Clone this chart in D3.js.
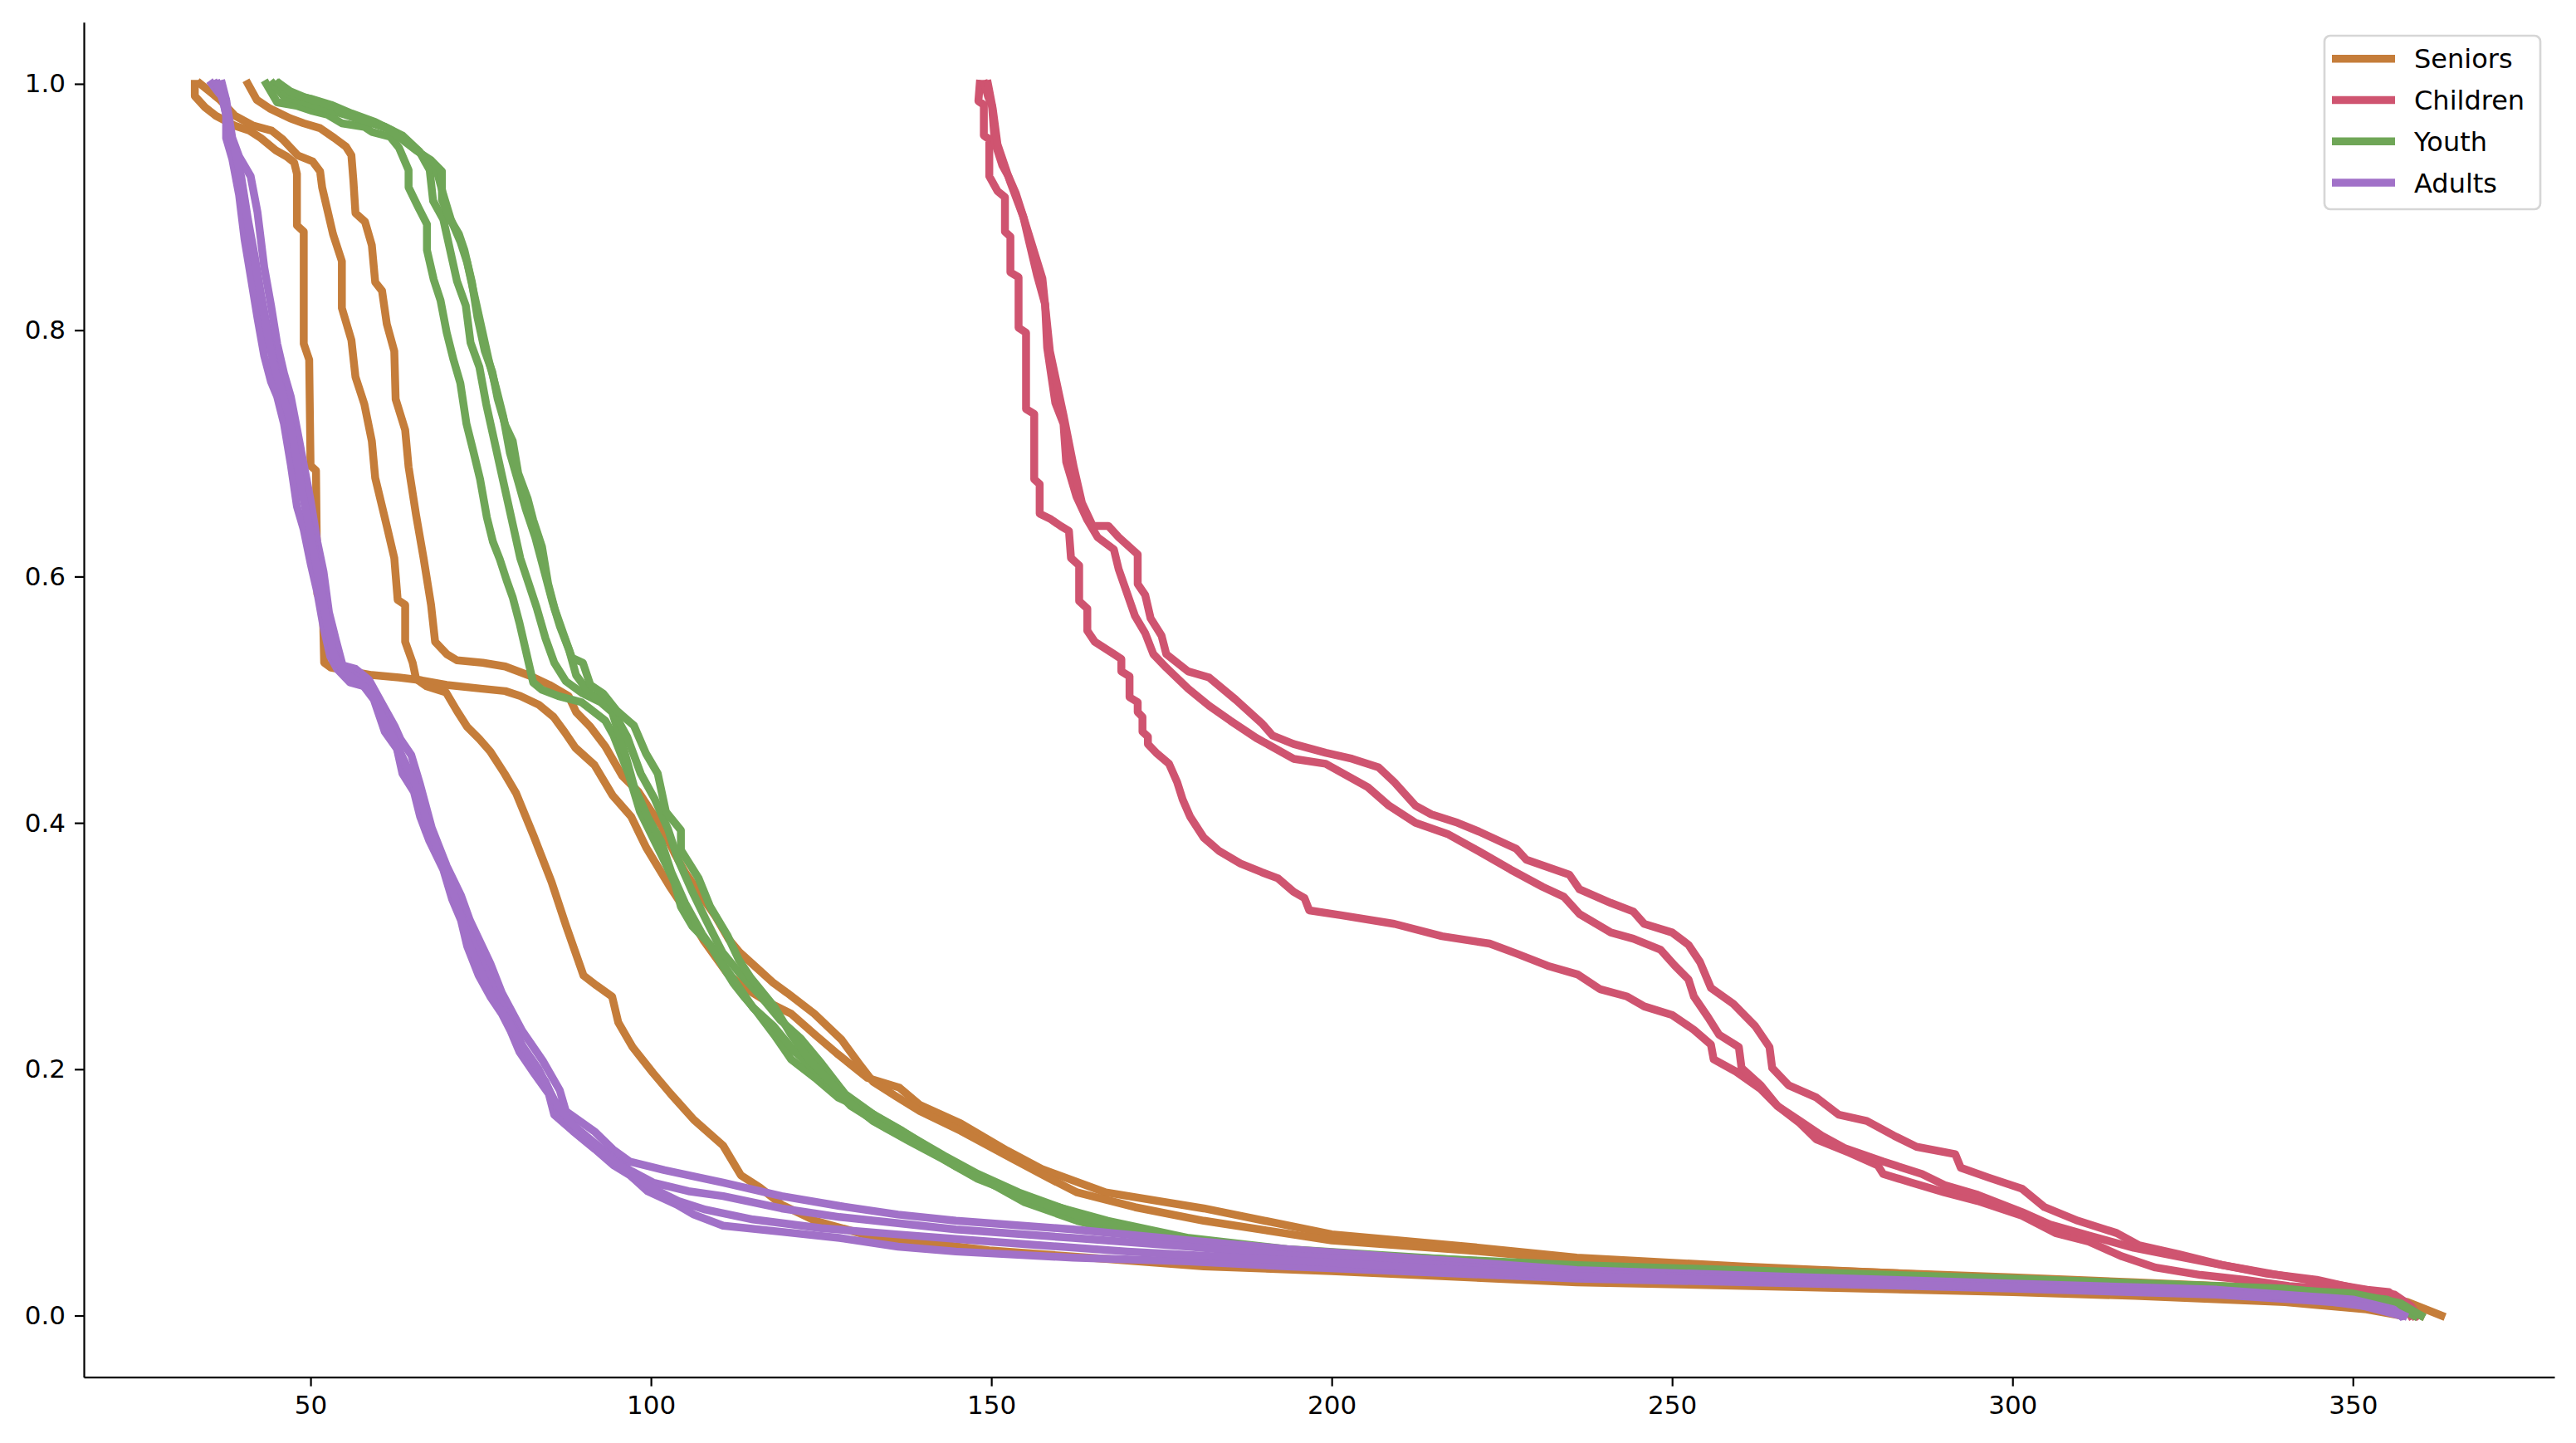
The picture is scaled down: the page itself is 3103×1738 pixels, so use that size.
<!DOCTYPE html>
<html><head><meta charset="utf-8">
<script src="https://cdn.jsdelivr.net/npm/d3@7"></script>
<style>html,body{margin:0;padding:0;background:#fff;} svg{display:block;}</style>
</head><body>
<svg id="chart" width="3103" height="1738"></svg>
<script>
const categories = ["Seniors", "Children", "Youth", "Adults"];
const colors = ["#c57d3a", "#cf5470", "#6fa657", "#a171c8"];
const xTicks = [50, 100, 150, 200, 250, 300, 350];
const yTicks = [0.0, 0.2, 0.4, 0.6, 0.8, 1.0];

// Seniors
const seniorsRun1 = [[33.0,1.0],[33.0,0.99],[34.5,0.981],[36.1,0.974],[38.9,0.966],[41,0.962],[42.7,0.956],[44.9,0.946],[46.5,0.941],[47.6,0.936],[48.0,0.927],[48.0,0.885],[49.0,0.880],[49.0,0.789],[49.8,0.776],[50.0,0.690],[50.8,0.686],[51.0,0.586],[51.8,0.576],[52.0,0.530],[53,0.526],[55,0.524],[59,0.520],[63,0.518],[66,0.516],[70,0.512],[75,0.509],[78.6,0.507],[80.8,0.503],[83.5,0.496],[85.7,0.486],[87.3,0.474],[88.9,0.461],[91.7,0.447],[94.4,0.422],[97.1,0.405],[99.3,0.380],[102.7,0.349],[105.2,0.328],[107.8,0.304],[111.2,0.278],[113.8,0.266],[117,0.255],[120.6,0.245],[124.1,0.228],[127.5,0.212],[131.8,0.193],[136.5,0.185],[139.5,0.171],[145.5,0.156],[152.3,0.134],[157.4,0.119],[166.8,0.100],[181.2,0.087],[200,0.066],[220,0.056],[236,0.047],[260,0.040],[280,0.035],[300,0.031],[318,0.027],[335,0.023],[350,0.019],[358,0.011],[363,0.0]];
const seniorsRun2 = [[33.8,1.0],[36.7,0.987],[38.9,0.974],[41.6,0.966],[44.3,0.962],[45.9,0.955],[48.1,0.942],[50.3,0.937],[51.4,0.929],[51.7,0.916],[53.3,0.878],[54.6,0.856],[54.6,0.818],[56.0,0.792],[56.6,0.762],[57.9,0.740],[59.0,0.710],[59.5,0.680],[61.2,0.641],[62.3,0.615],[62.8,0.581],[63.9,0.577],[63.9,0.547],[65.0,0.530],[65.5,0.517],[67,0.511],[69.9,0.506],[71.5,0.491],[73,0.478],[74.8,0.468],[76.4,0.458],[78.5,0.44],[80.2,0.424],[82.8,0.389],[85.4,0.352],[87.5,0.317],[90.1,0.276],[92.0,0.268],[94.3,0.259],[95.2,0.238],[97.3,0.218],[100.3,0.197],[102.9,0.180],[106.3,0.159],[110.6,0.138],[113.2,0.114],[116,0.104],[119.2,0.090],[124.1,0.077],[132.6,0.064],[149.7,0.053],[166.8,0.046],[181.2,0.040],[200,0.036],[236,0.027],[270,0.023],[300,0.019],[318,0.016],[340,0.011],[352,0.005],[357,0.0]];
const seniorsRun3 = [[40.8,1.0],[42.1,0.987],[44,0.980],[47.0,0.972],[49,0.968],[51.4,0.964],[53.5,0.956],[55.2,0.949],[56.0,0.942],[56.3,0.921],[56.6,0.895],[58,0.888],[59.0,0.869],[59.5,0.839],[60.5,0.832],[61.2,0.805],[62.3,0.783],[62.5,0.744],[63.9,0.719],[64.4,0.689],[65.5,0.650],[66.6,0.615],[67.7,0.577],[68.3,0.547],[70,0.537],[71.5,0.532],[75.3,0.530],[78.6,0.527],[82.4,0.519],[85.1,0.512],[87.9,0.503],[89,0.49],[91.1,0.478],[93.3,0.462],[95.8,0.438],[98.2,0.425],[100.1,0.409],[101.5,0.398],[103.5,0.375],[105,0.36],[107.0,0.344],[109.5,0.324],[111.5,0.305],[113,0.295],[116,0.28],[118,0.27],[120,0.262],[124,0.245],[128,0.224],[130.5,0.205],[132.6,0.19],[136,0.178],[139.5,0.166],[145.5,0.150],[153.2,0.127],[158.3,0.112],[162.6,0.100],[171.1,0.088],[181.2,0.077],[200,0.061],[220,0.053],[236,0.045],[260,0.039],[280,0.035],[300,0.030],[318,0.026],[335,0.022],[350,0.017],[356,0.009],[360,0.0]];

// Children
const childrenRun1 = [[148.3,1.0],[148.1,0.986],[148.9,0.983],[148.9,0.958],[149.7,0.955],[149.7,0.925],[150.9,0.913],[152.0,0.908],[152.0,0.880],[152.8,0.876],[152.8,0.847],[154.0,0.843],[154.0,0.802],[155.1,0.798],[155.1,0.736],[156.3,0.732],[156.3,0.679],[157.1,0.675],[157.1,0.651],[158.6,0.647],[160.2,0.641],[161.4,0.637],[161.7,0.615],[162.9,0.609],[162.9,0.580],[164.1,0.574],[164.1,0.556],[165.2,0.547],[168.0,0.537],[169.1,0.533],[169.1,0.523],[170.3,0.519],[170.3,0.502],[171.5,0.498],[171.5,0.490],[172.2,0.486],[172.2,0.474],[173.0,0.470],[173.0,0.464],[174.2,0.457],[176.1,0.448],[177.3,0.433],[178.1,0.419],[179.2,0.405],[181.2,0.388],[183.5,0.377],[186.6,0.367],[189.7,0.360],[192.1,0.355],[194.4,0.344],[196.0,0.339],[196.7,0.329],[201.4,0.325],[209.2,0.318],[216.2,0.308],[223.2,0.302],[227.1,0.294],[231.7,0.284],[236.1,0.277],[239.4,0.265],[243.4,0.259],[245.9,0.251],[250.0,0.244],[253.2,0.232],[255.7,0.220],[256.1,0.208],[259.4,0.198],[263.0,0.184],[265.5,0.170],[268.8,0.156],[271.2,0.143],[276.1,0.132],[280.2,0.122],[281.0,0.115],[285.1,0.108],[290.0,0.100],[294.9,0.093],[301.4,0.081],[306.3,0.067],[311.2,0.060],[316.1,0.048],[321.0,0.039],[327.6,0.033],[334.1,0.029],[340.6,0.024],[350.4,0.020],[355.3,0.017],[358,0.010],[359,0.0]];
const childrenRun2 = [[149.0,1.0],[149.5,0.99],[150.1,0.982],[150.5,0.953],[151.6,0.934],[152.5,0.925],[153.6,0.911],[154.7,0.892],[155.5,0.873],[156.7,0.845],[157.9,0.821],[158.2,0.786],[159.4,0.741],[160.6,0.724],[161.0,0.693],[162.5,0.665],[164.1,0.646],[165.6,0.632],[168.0,0.622],[168.7,0.606],[169.9,0.587],[171.1,0.568],[172.6,0.554],[173.8,0.537],[175.7,0.526],[178.9,0.509],[182.0,0.495],[185.1,0.483],[188.9,0.469],[194.4,0.452],[199.1,0.448],[205.3,0.429],[208.4,0.414],[212.3,0.400],[217.0,0.391],[221.6,0.377],[226.3,0.362],[231.0,0.348],[234.1,0.340],[236.4,0.326],[241.0,0.311],[244.3,0.306],[248.3,0.297],[250.4,0.284],[252.4,0.273],[253.2,0.259],[255.3,0.242],[256.9,0.228],[259.8,0.218],[260.2,0.201],[263.0,0.187],[265.5,0.170],[268.8,0.158],[272.0,0.146],[275.3,0.136],[281.0,0.125],[286.7,0.115],[290.0,0.106],[294.9,0.098],[301.4,0.084],[305.5,0.074],[311.2,0.065],[317.8,0.055],[324.3,0.048],[330.8,0.041],[339.0,0.033],[345.5,0.027],[352.1,0.021],[355.3,0.019],[357.5,0.010],[358.5,0.0]];
const childrenRun3 = [[149.5,1.0],[150.2,0.98],[150.9,0.951],[152.8,0.920],[154.7,0.892],[157.5,0.842],[158.6,0.783],[160.6,0.731],[162.1,0.689],[163.3,0.660],[164.9,0.641],[167.2,0.641],[168.7,0.632],[171.5,0.618],[171.5,0.594],[172.6,0.585],[173.4,0.566],[175.0,0.552],[175.7,0.537],[178.9,0.523],[182.0,0.518],[185.9,0.500],[189.7,0.481],[191.3,0.471],[194.4,0.464],[199.1,0.457],[203.0,0.452],[206.9,0.445],[209.2,0.433],[212.3,0.414],[214.6,0.407],[218.5,0.400],[221.6,0.393],[227.1,0.379],[228.6,0.370],[234.9,0.358],[236.4,0.346],[241.0,0.335],[244.3,0.328],[245.9,0.318],[250.0,0.311],[252.4,0.301],[254.1,0.287],[255.7,0.266],[259.0,0.253],[262.2,0.235],[264.3,0.218],[264.7,0.201],[267.1,0.187],[271.2,0.177],[274.5,0.163],[278.6,0.158],[282.6,0.146],[285.9,0.137],[291.6,0.131],[292.4,0.120],[296.5,0.112],[301.4,0.103],[304.7,0.088],[309.6,0.077],[315.3,0.067],[318.6,0.057],[324.3,0.050],[330.8,0.041],[337.4,0.034],[344.7,0.029],[350.4,0.022],[356.1,0.017],[358.5,0.008],[359.5,0.0]];

// Youth
const youthRun1 = [[43.5,1.0],[45.1,0.985],[48.1,0.982],[50.3,0.978],[52.5,0.975],[54.6,0.968],[57.9,0.965],[59,0.961],[61.7,0.957],[63,0.948],[64.4,0.930],[64.4,0.916],[65.9,0.899],[67.1,0.886],[67.1,0.865],[68.1,0.841],[69.1,0.824],[70.0,0.798],[71.0,0.776],[72.0,0.757],[72.9,0.724],[73.9,0.702],[74.9,0.679],[75.9,0.648],[76.8,0.628],[77.8,0.614],[78.8,0.597],[79.7,0.583],[80.7,0.562],[81.7,0.538],[82.7,0.514],[84,0.508],[86.4,0.503],[89.8,0.498],[93.3,0.483],[94.5,0.471],[96.7,0.440],[98.4,0.409],[100.1,0.39],[101.8,0.371],[103.5,0.351],[104.4,0.332],[106.1,0.316],[108.7,0.301],[110.4,0.285],[112.1,0.27],[113.8,0.258],[115.5,0.247],[118.1,0.228],[120.6,0.208],[124.1,0.193],[127.5,0.177],[131.8,0.166],[136.9,0.150],[141.2,0.135],[145.5,0.119],[149.7,0.108],[154.9,0.092],[162.6,0.077],[171.1,0.065],[181.2,0.057],[200,0.047],[236,0.038],[270,0.032],[300,0.027],[330,0.022],[350,0.016],[356,0.008],[359,0.0]];
const youthRun2 = [[44.5,1.0],[46,0.99],[49,0.985],[52,0.98],[55,0.975],[58,0.97],[61,0.965],[63.5,0.958],[66,0.945],[67.5,0.93],[68,0.905],[69.5,0.89],[70.5,0.865],[71.5,0.84],[72.8,0.82],[73.5,0.79],[74.8,0.77],[75.8,0.74],[76.8,0.715],[77.8,0.69],[78.8,0.665],[79.8,0.64],[80.8,0.615],[82,0.595],[83.2,0.575],[84.5,0.55],[85.8,0.53],[87.5,0.515],[90,0.505],[92.6,0.498],[94.3,0.49],[96,0.46],[97.5,0.43],[99.5,0.405],[101.5,0.385],[103,0.36],[105,0.335],[107.5,0.31],[110,0.29],[112.5,0.27],[115,0.25],[118,0.235],[121,0.215],[124.5,0.197],[129.4,0.17],[134.6,0.152],[139.7,0.138],[144.8,0.121],[151.7,0.104],[158.5,0.09],[167.1,0.077],[179,0.063],[193.4,0.054],[236,0.039],[300,0.028],[340,0.020],[355,0.012],[359,0.0]];
const youthRun3 = [[45.2,1.0],[46.5,0.992],[50,0.988],[53,0.983],[56,0.976],[59.5,0.969],[62,0.962],[64.5,0.952],[66.5,0.942],[68.5,0.93],[69.5,0.91],[70.6,0.89],[72,0.872],[73,0.855],[74,0.83],[75.2,0.80],[76.2,0.775],[77.3,0.752],[78.3,0.73],[79.3,0.70],[80.6,0.675],[81.6,0.655],[83,0.632],[84.3,0.605],[85.5,0.58],[86.6,0.56],[88,0.54],[89,0.52],[91,0.505],[94,0.495],[96.5,0.47],[98.5,0.44],[100.5,0.42],[102.5,0.395],[104,0.37],[106,0.345],[108.2,0.32],[110.5,0.295],[113,0.278],[116,0.26],[119,0.24],[122,0.225],[125,0.205],[128.5,0.18],[133,0.162],[138,0.146],[143,0.13],[148,0.115],[154,0.1],[162,0.084],[171,0.07],[181,0.06],[200,0.05],[236,0.041],[300,0.030],[340,0.022],[355,0.013],[360,0.0]];
const youthRun4 = [[45.5,1.0],[47,0.994],[49.2,0.989],[51.4,0.985],[53.6,0.981],[55.7,0.974],[59,0.968],[61.2,0.964],[63.4,0.955],[65.5,0.946],[67.7,0.938],[69.3,0.929],[69.3,0.906],[70.4,0.891],[71.8,0.878],[72.6,0.865],[73.7,0.839],[74.5,0.811],[75.6,0.783],[76.7,0.766],[77.5,0.744],[78.6,0.723],[79.7,0.710],[80.5,0.684],[81.9,0.663],[82.7,0.646],[84.0,0.624],[84.9,0.594],[85.9,0.573],[87.3,0.551],[88.4,0.534],[90.0,0.530],[91.1,0.512],[93,0.505],[95.0,0.491],[97.5,0.479],[99.3,0.456],[101.0,0.440],[102.2,0.409],[104.4,0.394],[104.4,0.378],[107.0,0.355],[108.7,0.332],[111.2,0.309],[112.9,0.289],[114.7,0.274],[118.1,0.251],[120.6,0.228],[123.2,0.208],[125.8,0.193],[129.2,0.173],[132.6,0.158],[137.8,0.142],[142.9,0.127],[148.0,0.111],[154.9,0.096],[162.6,0.081],[171.1,0.068],[181.2,0.059],[200,0.049],[236,0.040],[270,0.034],[300,0.029],[330,0.024],[350,0.018],[357,0.010],[360,0.0]];

// Adults
const adultsRun1 = [[35.5,1.0],[36.6,0.992],[37.6,0.987],[37.6,0.956],[38.5,0.939],[39.5,0.910],[40.3,0.874],[41.2,0.844],[42.2,0.810],[43.2,0.779],[44.2,0.758],[45.1,0.746],[46.1,0.724],[47.1,0.691],[48.0,0.657],[49.0,0.638],[50.0,0.611],[51.0,0.587],[51.9,0.559],[52.9,0.535],[53.9,0.525],[55.8,0.514],[57.8,0.511],[59.3,0.500],[60.9,0.474],[62.7,0.46],[63.5,0.44],[65.2,0.425],[66.1,0.405],[67.4,0.386],[69.5,0.362],[70.8,0.338],[72.1,0.321],[73.0,0.300],[74.7,0.276],[76.4,0.259],[78.1,0.245],[79.4,0.231],[80.7,0.214],[82.8,0.197],[85.0,0.180],[85.8,0.163],[88.5,0.15],[91.8,0.135],[94.5,0.122],[96.9,0.114],[99.5,0.101],[103.8,0.090],[106.3,0.082],[110.6,0.073],[119.2,0.068],[127.7,0.063],[136.3,0.056],[144.8,0.052],[162.0,0.047],[179.0,0.044],[193.4,0.040],[236,0.030],[270,0.026],[300,0.022],[330,0.017],[350,0.010],[357,0.0]];
const adultsRun2 = [[37.0,1.0],[37.6,0.987],[38.5,0.956],[39.5,0.941],[41.2,0.925],[42.2,0.896],[43.2,0.851],[44.2,0.820],[45.1,0.789],[46.1,0.765],[47.1,0.746],[48.0,0.720],[49.0,0.691],[50.0,0.662],[51.0,0.628],[51.9,0.604],[52.7,0.571],[53.7,0.549],[54.7,0.528],[56.6,0.525],[58.6,0.516],[60.5,0.497],[62.4,0.478],[63.2,0.468],[64.8,0.455],[66.1,0.431],[67.8,0.396],[70.0,0.365],[72.1,0.341],[73.4,0.321],[76.4,0.286],[78.1,0.262],[81.1,0.231],[84.1,0.207],[86.6,0.183],[87.5,0.166],[91.8,0.149],[94.4,0.135],[96.9,0.125],[102.0,0.118],[110.6,0.108],[119.2,0.097],[127.7,0.089],[136.3,0.082],[144.8,0.077],[162.0,0.070],[179.0,0.061],[193.4,0.054],[236,0.037],[270,0.031],[300,0.026],[330,0.021],[350,0.013],[356,0.005],[357,0.0]];
const adultsRun3 = [[36,1.0],[37,0.99],[37.8,0.97],[38.7,0.948],[39.8,0.925],[40.8,0.89],[41.8,0.86],[42.7,0.83],[43.7,0.80],[44.6,0.775],[45.6,0.755],[46.6,0.735],[47.6,0.705],[48.5,0.675],[49.5,0.65],[50.5,0.625],[51.5,0.597],[52.3,0.565],[53.3,0.54],[54.3,0.527],[56.5,0.52],[58.2,0.513],[60,0.5],[61.6,0.48],[63,0.455],[64.5,0.44],[65.8,0.42],[67.1,0.395],[69,0.37],[70.5,0.35],[71.8,0.33],[73.2,0.31],[75.5,0.283],[77.3,0.26],[79.8,0.235],[82,0.208],[84.5,0.19],[86.6,0.163],[90,0.148],[93.5,0.132],[96.9,0.118],[100.3,0.108],[105.5,0.101],[110.6,0.097],[119.2,0.087],[127.7,0.080],[136.3,0.075],[144.8,0.070],[162.0,0.063],[179.0,0.056],[193.4,0.049],[236,0.034],[270,0.029],[300,0.024],[330,0.019],[350,0.012],[356,0.004],[357.5,0.0]];
const adultsRun4 = [[36.3,1.0],[37.2,0.985],[38,0.965],[39,0.945],[40,0.915],[41,0.88],[42,0.85],[42.9,0.82],[43.9,0.79],[44.9,0.765],[45.8,0.75],[46.8,0.73],[47.8,0.70],[48.8,0.668],[49.8,0.64],[50.8,0.61],[51.7,0.585],[52.6,0.555],[53.5,0.535],[55,0.522],[57,0.515],[59,0.505],[60.7,0.485],[62.5,0.465],[63.8,0.45],[65.5,0.43],[66.6,0.41],[68.5,0.38],[70.3,0.355],[71.5,0.335],[73,0.305],[75,0.28],[77,0.255],[79,0.24],[81,0.22],[83.5,0.2],[85.8,0.175],[88,0.158],[91,0.142],[94,0.128],[97,0.116],[100,0.104],[104,0.093],[108,0.086],[115,0.078],[125,0.071],[136,0.066],[150,0.060],[170,0.052],[193,0.045],[236,0.032],[300,0.023],[340,0.016],[354,0.006],[357,0.0]];

const seniorsRuns = [seniorsRun1, seniorsRun2, seniorsRun3];
const childrenRuns = [childrenRun1, childrenRun2, childrenRun3];
const youthRuns = [youthRun1, youthRun2, youthRun3, youthRun4];
const adultsRuns = [adultsRun1, adultsRun2, adultsRun3, adultsRun4];
const groupRuns = [seniorsRuns, childrenRuns, youthRuns, adultsRuns];

const W = 3103, H = 1738;
const plotLeft = 101, plotRight = 3077, plotTop = 26.8, plotBottom = 1658.7;
const lineW = 9.5;
const svg = d3.select("#chart");
svg.append("rect").attr("width", W).attr("height", H).attr("fill", "#ffffff");

const x = d3.scaleLinear().domain([16.7, 379.6]).range([plotLeft, plotRight]);
const y = d3.scaleLinear().domain([-0.05, 1.05]).range([plotBottom, plotTop]);

const line = d3.line().x(d => x(d[0])).y(d => y(d[1]));

const plot = svg.append("g");
groupRuns.forEach((runs, gi) => {
  runs.forEach(run => {
    plot.append("path")
      .datum(run)
      .attr("d", line)
      .attr("fill", "none")
      .attr("stroke", colors[gi])
      .attr("stroke-width", lineW)
      .attr("stroke-linejoin", "round")
      .attr("stroke-linecap", "square");
  });
});

const font = "'DejaVu Sans', sans-serif";
const xAxis = svg.append("g").attr("transform", `translate(0,${plotBottom})`)
  .call(d3.axisBottom(x).tickValues(xTicks).tickFormat(d3.format("d")).tickSize(11).tickPadding(11).tickSizeOuter(0));
const yAxis = svg.append("g").attr("transform", `translate(${plotLeft},0)`)
  .call(d3.axisLeft(y).tickValues(yTicks).tickFormat(d3.format(".1f")).tickSize(11).tickPadding(11).tickSizeOuter(0));
[xAxis, yAxis].forEach(ax => {
  ax.select(".domain").attr("stroke", "#000").attr("stroke-width", 2.2);
  ax.selectAll(".tick line").attr("stroke", "#000").attr("stroke-width", 2.2);
  ax.selectAll(".tick text").attr("fill", "#000").style("font-family", font).style("font-size", "31px");
});

// Legend
const lg = svg.append("g");
lg.append("rect").attr("x", 2800).attr("y", 43).attr("width", 260).attr("height", 209)
  .attr("rx", 7).attr("ry", 7)
  .attr("fill", "#ffffff").attr("fill-opacity", 0.8)
  .attr("stroke", "#d6d6d6").attr("stroke-width", 2.7);
categories.forEach((c, i) => {
  const ly = 70.7 + i * 49.8;
  lg.append("line").attr("x1", 2809).attr("x2", 2885).attr("y1", ly).attr("y2", ly)
    .attr("stroke", colors[i]).attr("stroke-width", lineW);
  lg.append("text").attr("x", 2908).attr("y", ly + 11.5).text(c)
    .attr("fill", "#000").style("font-family", font).style("font-size", "32px");
});
</script>
</body></html>
